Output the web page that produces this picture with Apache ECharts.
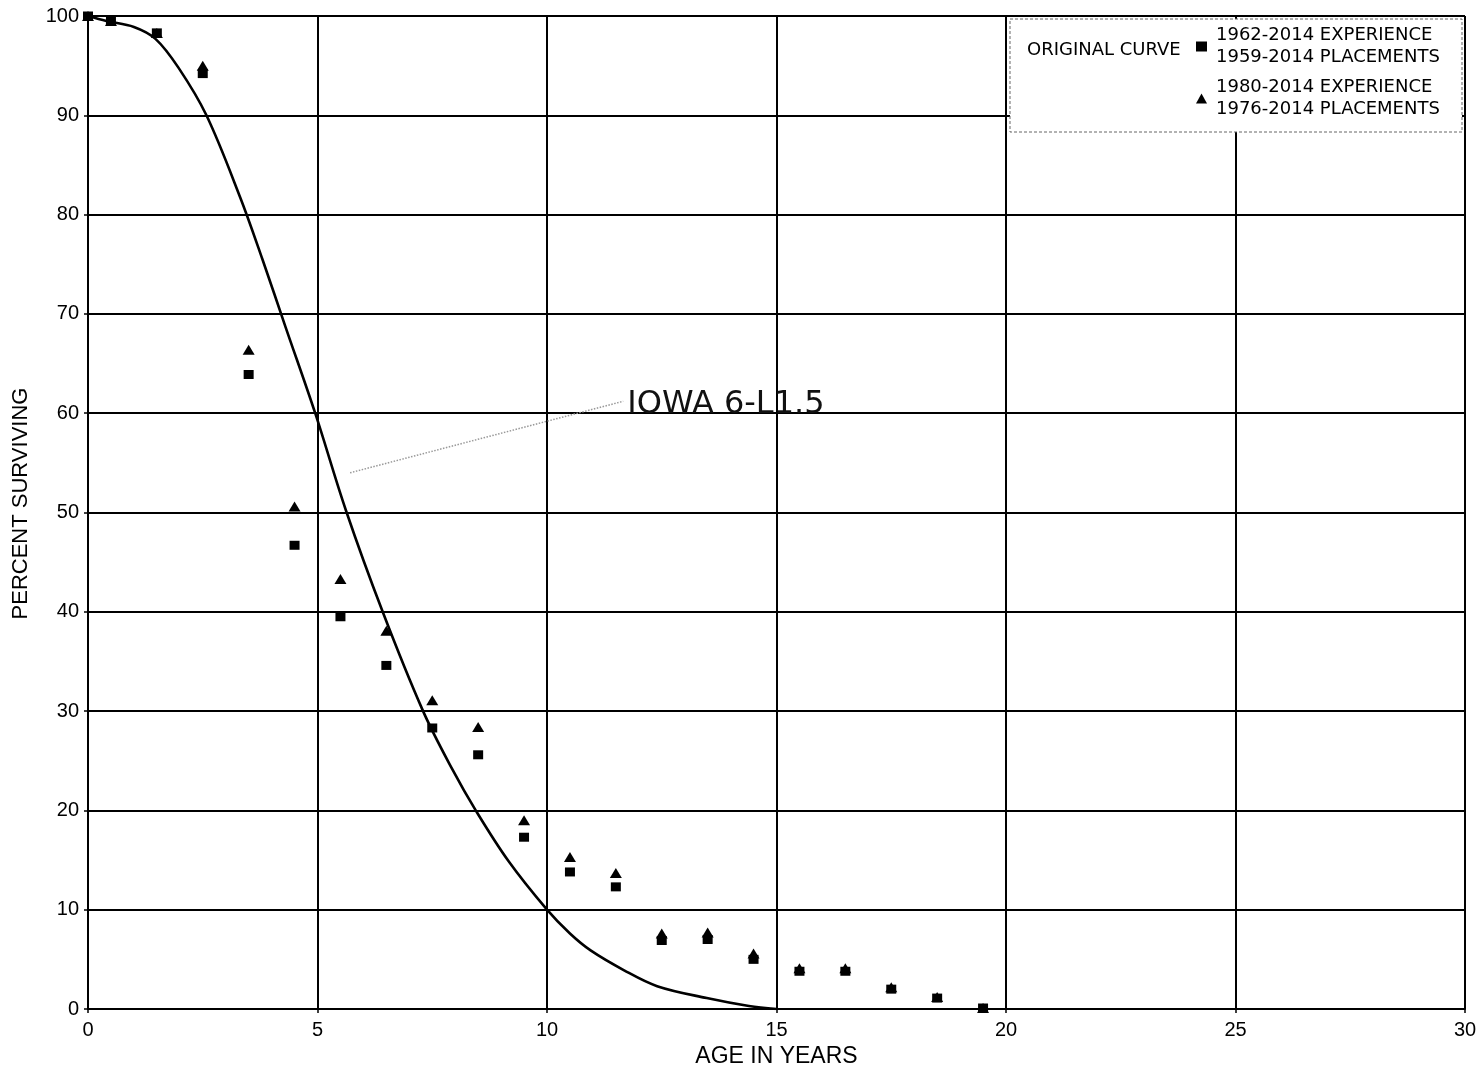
<!DOCTYPE html>
<html>
<head>
<meta charset="utf-8">
<script src="https://cdn.jsdelivr.net/npm/echarts@6/dist/echarts.min.js"></script>
<style>
html,body{margin:0;padding:0;background:#fff;}
#chart{width:1484px;height:1071px;}
</style>
</head>
<body>
<div id="chart"></div>
<script>
// ---- data ----
var curveAges = [0, 0.4, 1.0, 1.47, 1.97, 2.58, 3.31, 3.8, 4.31, 4.95, 5.62, 6.42, 7.30, 7.93, 8.46, 9.16, 10.0, 10.5, 10.95, 11.68, 12.4, 13.48, 14.4, 15.0];
var curvePct  = [100, 99.5, 98.9, 97.7, 94.8, 90.0, 81.8, 75.5, 68.6, 60.0, 50.2, 40.0, 30.0, 24.2, 19.9, 14.9, 10.0, 7.6, 5.9, 3.9, 2.3, 1.1, 0.3, 0];

var pointAges = [0, 0.5, 1.5, 2.5, 3.5, 4.5, 5.5, 6.5, 7.5, 8.5, 9.5, 10.5, 11.5, 12.5, 13.5, 14.5, 15.5, 16.5, 17.5, 18.5, 19.5];
var squarePct = [100, 99.5, 98.3, 94.2, 63.9, 46.7, 39.5, 34.6, 28.3, 25.6, 17.3, 13.8, 12.3, 6.9, 7.0, 5.0, 3.8, 3.8, 2.0, 1.1, 0.1];
var trianglePct = [100, 99.5, 98.3, 95.0, 66.4, 50.6, 43.3, 38.1, 31.1, 28.4, 19.0, 15.3, 13.7, 7.6, 7.7, 5.6, 4.1, 4.1, 2.2, 1.2, 0.1];

var xTicks = [0, 5, 10, 15, 20, 25, 30];
var yTicks = [0, 10, 20, 30, 40, 50, 60, 70, 80, 90, 100];

var curveName = 'ORIGINAL CURVE';
var squareName = '1962-2014 EXPERIENCE\n1959-2014 PLACEMENTS';
var triangleName = '1980-2014 EXPERIENCE\n1976-2014 PLACEMENTS';
var curveLabel = 'IOWA 6-L1.5';
var leaderStart = [5.71, 54.0];
var leaderEnd = [11.66, 61.2];
var labelAnchor = [11.74, 60.9];

function pairs(xs, ys) { return xs.map(function (x, i) { return [x, ys[i]]; }); }

var chart = echarts.init(document.getElementById('chart'), null, {renderer: 'canvas'});
var axisFont = 'Liberation Sans, Arial, sans-serif';
var legendFont = 'DejaVu Sans, Verdana, sans-serif';

var option = {
  animation: false,
  backgroundColor: '#fff',
  grid: {left: 88, right: 19, top: 16, bottom: 62, containLabel: false, outerBoundsMode: 'none'},
  xAxis: {
    type: 'value', min: xTicks[0], max: xTicks[xTicks.length - 1], interval: 5,
    name: 'AGE IN YEARS', nameLocation: 'middle', nameGap: 36,
    nameTextStyle: {fontFamily: axisFont, fontSize: 23, color: '#000', verticalAlign: 'top'},
    axisLine: {show: true, lineStyle: {color: '#000', width: 2}},
    axisTick: {show: true, length: 4, lineStyle: {color: '#000', width: 1.5}},
    axisLabel: {fontFamily: axisFont, fontSize: 20, color: '#000', margin: 11},
    splitLine: {show: true, lineStyle: {color: '#000', width: 2}}
  },
  yAxis: {
    type: 'value', min: yTicks[0], max: yTicks[yTicks.length - 1], interval: 10,
    name: 'PERCENT SURVIVING', nameLocation: 'middle', nameGap: 56, nameRotate: 90,
    nameTextStyle: {fontFamily: axisFont, fontSize: 22, color: '#000', padding: [0, 0, 0, 18]},
    axisLine: {show: true, lineStyle: {color: '#000', width: 2}},
    axisTick: {show: true, length: 4, lineStyle: {color: '#000', width: 1.5}},
    axisLabel: {fontFamily: axisFont, fontSize: 20, color: '#000', margin: 9},
    splitLine: {show: true, lineStyle: {color: '#000', width: 2}}
  },
  graphic: [{
    type: 'rect', z: 50,
    shape: {x: 1010, y: 19, width: 452, height: 113},
    style: {fill: '#fff', stroke: '#666', lineWidth: 1, lineDash: [3, 2]}
  }],
  legend: [{
    z: 100, left: 1022, top: 40, padding: 0, itemWidth: 0, itemHeight: 0,
    selectedMode: false,
    data: [{name: curveName, icon: 'none'}],
    textStyle: {fontFamily: legendFont, fontSize: 18, color: '#000', lineHeight: 21}
  }, {
    z: 100, left: 1196, top: 25, padding: 0, orient: 'vertical', itemGap: 9,
    itemWidth: 11, itemHeight: 10, selectedMode: false,
    data: [{name: squareName, icon: 'rect'}, {name: triangleName, icon: 'triangle'}],
    itemStyle: {opacity: 1},
    textStyle: {fontFamily: legendFont, fontSize: 18, color: '#000', lineHeight: 21.5, padding: [0, 0, 0, 4]}
  }],
  series: [{
    name: curveName, type: 'line', z: 2,
    data: pairs(curveAges, curvePct),
    smooth: 0.35, showSymbol: false, symbol: 'none',
    lineStyle: {color: '#000', width: 2.6},
    itemStyle: {color: '#000'},
    markLine: {
      silent: true, symbol: ['none', 'none'],
      lineStyle: {color: '#999', width: 1.5, type: 'dotted'},
      label: {show: false},
      data: [[{coord: leaderStart}, {coord: leaderEnd}]]
    },
    markPoint: {
      silent: true,
      data: [{coord: labelAnchor, symbol: 'circle', symbolSize: 1,
        itemStyle: {color: 'rgba(0,0,0,0)'},
        label: {show: true, position: 'right', distance: 0, formatter: curveLabel,
          fontFamily: legendFont, fontSize: 32, color: '#111'}}]
    }
  }, {
    name: triangleName, type: 'scatter', z: 3,
    data: pairs(pointAges, trianglePct),
    symbol: 'triangle', symbolSize: [12, 10],
    itemStyle: {color: '#000', opacity: 1}
  }, {
    name: squareName, type: 'scatter', z: 4,
    data: pairs(pointAges, squarePct),
    symbol: 'rect', symbolSize: [10, 9],
    itemStyle: {color: '#000', opacity: 1}
  }]
};
chart.setOption(option);
</script>
</body>
</html>
